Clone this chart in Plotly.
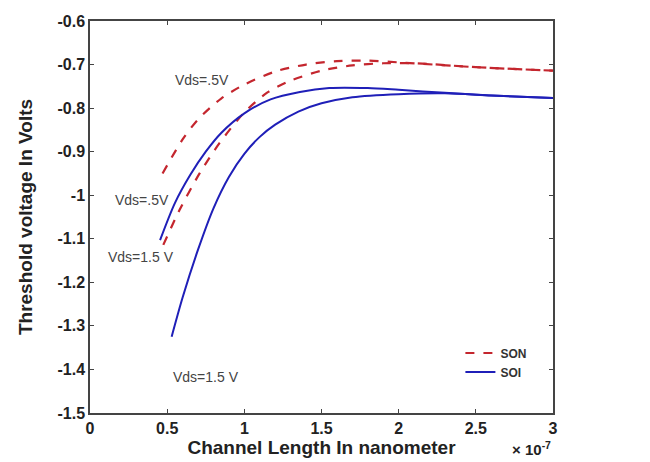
import plotly.graph_objects as go

# Channel length in units of 1e-7 m, threshold voltage in V
son_05_x = [0.47, 0.6, 0.7, 0.85, 1.0, 1.2, 1.4, 1.6, 1.8, 2.0, 2.5, 3.0]
son_05_y = [-0.950, -0.872, -0.826, -0.778, -0.746, -0.716, -0.700, -0.692, -0.691, -0.695, -0.706, -0.714]

son_15_x = [0.475, 0.58, 0.71, 0.84, 1.0, 1.15, 1.3, 1.5, 1.7, 1.9, 2.1, 2.5, 3.0]
son_15_y = [-1.114, -1.034, -0.950, -0.880, -0.810, -0.764, -0.737, -0.714, -0.702, -0.697, -0.697, -0.706, -0.714]

soi_05_x = [0.454, 0.55, 0.65, 0.75, 0.85, 1.0, 1.17, 1.36, 1.55, 1.8, 2.0, 2.3, 2.6, 3.0]
soi_05_y = [-1.103, -1.018, -0.953, -0.900, -0.857, -0.812, -0.780, -0.763, -0.754, -0.754, -0.758, -0.765, -0.771, -0.777]

soi_15_x = [0.529, 0.6, 0.7, 0.8, 0.9, 1.0, 1.1, 1.2, 1.35, 1.5, 1.7, 2.0, 2.3, 2.6, 3.0]
soi_15_y = [-1.325, -1.235, -1.125, -1.030, -0.958, -0.905, -0.866, -0.838, -0.808, -0.789, -0.775, -0.768, -0.766, -0.771, -0.777]

x_ticks = [0, 0.5, 1, 1.5, 2, 2.5, 3]
x_ticktext = ["0", "0.5", "1", "1.5", "2", "2.5", "3"]
y_ticks = [-0.6, -0.7, -0.8, -0.9, -1.0, -1.1, -1.2, -1.3, -1.4, -1.5]
y_ticktext = ["-0.6", "-0.7", "-0.8", "-0.9", "-1", "-1.1", "-1.2", "-1.3", "-1.4", "-1.5"]

RED = "#c4262e"
BLUE = "#1f1fb8"
FONT = "Liberation Sans, Arial"

fig = go.Figure()
fig.add_trace(go.Scatter(x=son_05_x, y=son_05_y, mode="lines", name="<b>SON</b>",
                         line=dict(color=RED, width=2.2, dash="dash", shape="spline", smoothing=0.8),
                         showlegend=True))
fig.add_trace(go.Scatter(x=son_15_x, y=son_15_y, mode="lines", name="SON",
                         line=dict(color=RED, width=2.2, dash="dash", shape="spline", smoothing=0.8),
                         showlegend=False))
fig.add_trace(go.Scatter(x=soi_05_x, y=soi_05_y, mode="lines", name="<b>SOI</b>",
                         line=dict(color=BLUE, width=2, shape="spline", smoothing=0.8),
                         showlegend=True))
fig.add_trace(go.Scatter(x=soi_15_x, y=soi_15_y, mode="lines", name="SOI",
                         line=dict(color=BLUE, width=2, shape="spline", smoothing=0.8),
                         showlegend=False))

ann_font = dict(family=FONT, size=14, color="#444444")
annotations = [
    dict(x=0.726, y=-0.735, text="Vds=.5V"),
    dict(x=0.337, y=-1.011, text="Vds=.5V"),
    dict(x=0.33, y=-1.142, text="Vds=1.5 V"),
    dict(x=0.752, y=-1.417, text="Vds=1.5 V"),
]
for a in annotations:
    fig.add_annotation(x=a["x"], y=a["y"], text=a["text"], showarrow=False,
                       xref="x", yref="y", font=ann_font)

fig.add_annotation(x=1.0, y=-0.09, xref="paper", yref="paper", text="<b>× 10<sup>-7</sup></b>",
                   showarrow=False, xanchor="right", yanchor="middle",
                   font=dict(family=FONT, size=15, color="#222222"))

tick_font = dict(family=FONT, size=16, color="#222222")
fig.update_layout(
    width=650, height=462,
    margin=dict(l=90, r=97, t=21, b=49),
    paper_bgcolor="white", plot_bgcolor="white",
    font=dict(family=FONT, color="#222222"),
    xaxis=dict(range=[0, 3], tickvals=x_ticks, ticktext=[f"<b>{t}</b>" for t in x_ticktext],
               ticks="inside", ticklen=4, tickcolor="#444", mirror="ticks",
               showline=True, linecolor="#444", linewidth=1.5, showgrid=False, zeroline=False,
               tickfont=tick_font,
               title=dict(text="<b>Channel Length In nanometer</b>", standoff=0,
                          font=dict(family=FONT, size=19, color="#222222"))),
    yaxis=dict(range=[-1.5, -0.6], tickvals=y_ticks, ticktext=[f"<b>{t}</b>" for t in y_ticktext],
               ticks="inside", ticklen=4, tickcolor="#444", mirror="ticks",
               showline=True, linecolor="#444", linewidth=1.5, showgrid=False, zeroline=False,
               tickfont=tick_font,
               title=dict(text="<b>Threshold voltage In Volts</b>", standoff=20,
                          font=dict(family=FONT, size=19, color="#222222"))),
    legend=dict(x=0.8, y=0.19, xanchor="left", yanchor="top", bgcolor="rgba(0,0,0,0)",
                font=dict(family=FONT, size=12, color="#333333"),
                itemwidth=30, tracegroupgap=0),
)

fig.write_html("out.html")
